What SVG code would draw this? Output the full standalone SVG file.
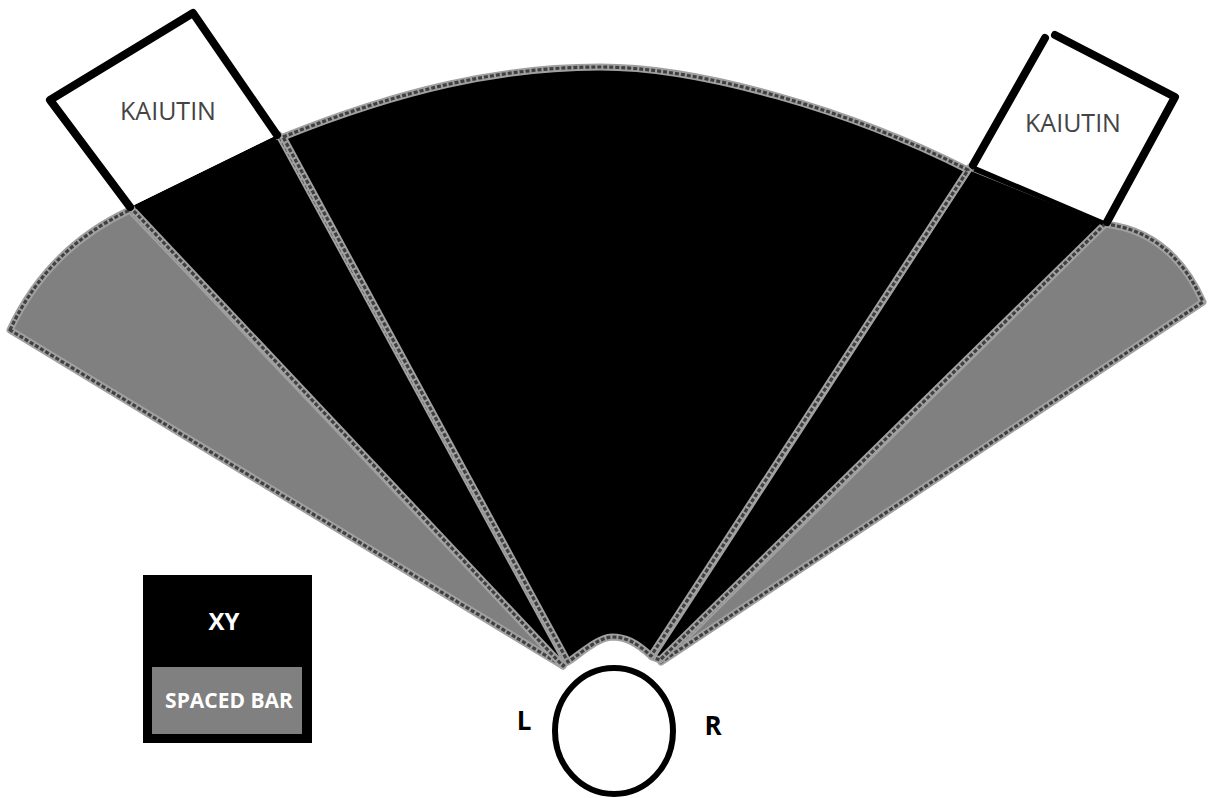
<svg xmlns="http://www.w3.org/2000/svg" width="1209" height="798" viewBox="0 0 1209 798">
<style>
.edge{stroke:#a0a0a0;stroke-width:7;stroke-linejoin:round}
.dash{fill:none;stroke:#404040;stroke-width:3.2;stroke-dasharray:4 2;stroke-linejoin:round}
.blk{fill:#000}
.gry{fill:#808080}
.box{fill:#fff;stroke:#000;stroke-width:8;stroke-linejoin:round;stroke-linecap:round}
.seam{stroke:#000;stroke-width:9;fill:none}
.kai{font-family:"Open Sans","Liberation Sans",sans-serif;font-size:25px;fill:#444;text-anchor:middle}
.lbl{font-family:"Open Sans","Liberation Sans",sans-serif;font-weight:bold;fill:#000;text-anchor:middle}
.leg{font-family:"Open Sans","Liberation Sans",sans-serif;font-weight:bold;fill:#fff;text-anchor:middle}
</style>
<defs>
<path id="pLG" d="M 10,330 Q 48,248 130,210 L 563,666 Z"/>
<path id="pLB" d="M 130,207 L 279,135 L 566,662 L 563,666 Z"/>
<path id="pC" d="M 283,137 C 400,90 500,67 600,67 C 700,67 850,110 968,170 L 651,656 C 636,642 625,637 612,637 C 598,638 585,650 568,662 Z"/>
<path id="pRB" d="M 970,167 L 1107,222 L 660,660 L 652,657 Z"/>
<path id="pRG" d="M 1105,224 Q 1172,232 1203,302 L 661,662 Z"/>
</defs>
<rect width="1209" height="798" fill="#fff"/>
<g id="fan">
<g id="wedge-left-grey">
<use href="#pLG" class="gry edge"/><use href="#pLG" class="dash"/>
</g>
<g id="wedge-right-grey">
<use href="#pRG" class="gry edge"/><use href="#pRG" class="dash"/>
</g>
<g id="wedge-left-black">
<use href="#pLB" class="blk edge"/><use href="#pLB" class="dash"/>
</g>
<g id="wedge-right-black">
<use href="#pRB" class="blk edge"/><use href="#pRB" class="dash"/>
</g>
<g id="wedge-center">
<use href="#pC" class="blk edge"/><use href="#pC" class="dash"/>
</g>
</g>
<g id="box-left">
<path d="M 134,205 L 275,137" class="seam"/>
<polygon points="50,100 193,13 277,135 130,207" fill="#fff"/>
<path d="M 130,207 L 50,100 L 193,13 L 277,135" class="box" fill="none"/>
<text x="168" y="120" class="kai">KAIUTIN</text>
</g>
<g id="box-right">
<path d="M 975,167 L 1104,221" class="seam"/>
<polygon points="973,165 1045,38 1175,97 1107,222" fill="#fff"/>
<path d="M 1055,35 L 1175,97 L 1107,222 M 973,165 L 1045,38" class="box" fill="none"/>
<text x="1073" y="132" class="kai">KAIUTIN</text>
</g>
<g id="head">
<ellipse cx="614" cy="731" rx="59" ry="63" fill="#fff" stroke="#000" stroke-width="6"/>
<text x="524" y="730" class="lbl" font-size="26">L</text>
<text x="713" y="735" class="lbl" font-size="26">R</text>
</g>
<g id="legend">
<rect x="143" y="575" width="169" height="168" fill="#000"/>
<rect x="152" y="667" width="150" height="67" fill="#808080"/>
<text x="224" y="630" class="leg" font-size="24">XY</text>
<text x="229" y="708" class="leg" font-size="21">SPACED BAR</text>
</g>
<g id="connectors"></g>
</svg>
